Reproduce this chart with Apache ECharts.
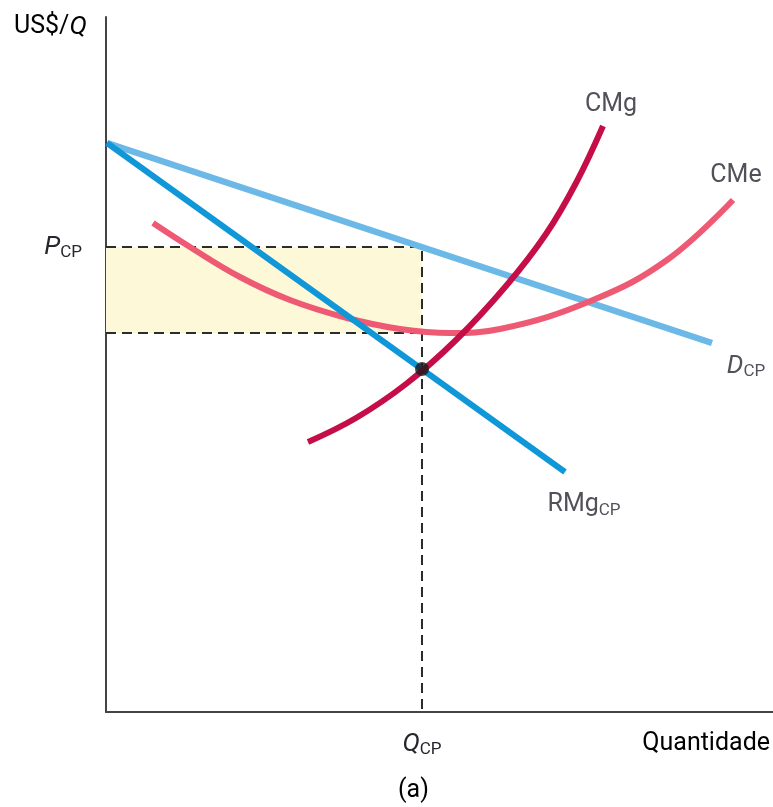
<!DOCTYPE html>
<html>
<head>
<meta charset="utf-8">
<script src="https://cdn.jsdelivr.net/npm/echarts@6/dist/echarts.min.js"></script>
<style>html,body{margin:0;padding:0;background:#fff}#c{width:773px;height:807px}</style>
</head>
<body>
<div id="c"></div>
<script>
// Values (x: quantity units, y: US$/Q units)
const demandCP = [[1, 569], [606, 369]];
const rmgCP = [[1, 569], [459, 240]];
const cmg = [[202,270],[250,294],[300,328],[350,372],[400,426],[440,478],[470,529],[497,586]];
const cme = [[47,489],[84,465],[134,435],[184,412],[241,394],[294,383],[344,379],[394,383],[487,412],[561,452],[627,512]];
const qCP = 316;
const pCP = 465;
const cmeAtQ = 379;
const equilibrium = [[316, 343]];
const curveLabels = [
  [505, 607, '{n|CMg}'],
  [630, 536, '{n|CMe}'],
  [640, 346, '{i|D}{s|CP}'],
  [478, 207, '{n|RMg}{s|CP}']
];
const xMax = 667, yMax = 695;

const txt = '#26262f';
const font = 'Roboto, "Liberation Sans", sans-serif';
const rich = {
  n: {fontSize: 25, fontFamily: font, color: txt, lineHeight: 28},
  i: {fontSize: 26, fontFamily: font, color: txt, fontStyle: 'italic', lineHeight: 28},
  s: {fontSize: 17, fontFamily: font, color: txt, lineHeight: 28, verticalAlign: 'bottom', padding: [10, 0, 0, 0]}
};

const chart = echarts.init(document.getElementById('c'), null, {renderer: 'canvas'});
const dash = {color: '#2b2b2b', width: 2, type: [10, 6]};
chart.setOption({
  animation: false,
  grid: {left: 106, right: 0, top: 17, bottom: 95},
  xAxis: {
    type: 'value', min: 0, max: xMax,
    axisLine: {show: true, lineStyle: {color: '#444', width: 2}},
    axisTick: {show: false}, splitLine: {show: false},
    axisLabel: {customValues: [qCP], margin: 18, color: txt, formatter: () => '{i|Q}{s|CP}', rich: rich}
  },
  yAxis: {
    type: 'value', min: 0, max: yMax,
    axisLine: {show: true, lineStyle: {color: '#444', width: 2}},
    axisTick: {show: false}, splitLine: {show: false},
    axisLabel: {customValues: [pCP], margin: 24, color: txt, formatter: () => '{i|P}{s|CP}', rich: rich}
  },
  graphic: [
    {type: 'text', left: 14, top: 14, style: {rich: rich, text: '{n|US$/}{i|Q}'}},
    {type: 'text', right: 3, top: 731, style: {rich: rich, text: '{n|Quantidade}'}},
    {type: 'text', left: 398, top: 778, style: {rich: rich, text: '{n|(a)}'}}
  ],
  series: [
    {
      type: 'line', data: [[0, cmeAtQ], [qCP, cmeAtQ]], symbol: 'none', lineStyle: dash, z: 3,
      markArea: {silent: true, itemStyle: {color: '#fdf8d7'}, data: [[{coord: [0, cmeAtQ]}, {coord: [qCP, pCP]}]]}
    },
    {type: 'line', data: [[0, pCP], [qCP, pCP], [qCP, 0]], symbol: 'none', lineStyle: dash, z: 3},
    {type: 'line', data: demandCP, symbol: 'none', lineStyle: {color: '#6cb8e6', width: 6.5}, z: 4},
    {type: 'line', data: cme, smooth: 0.4, smoothConstraint: false, symbol: 'none', lineStyle: {color: '#ee5a73', width: 6}, z: 5},
    {type: 'line', data: rmgCP, symbol: 'none', lineStyle: {color: '#0f97d7', width: 6}, z: 6},
    {type: 'line', data: cmg, smooth: 0.4, smoothConstraint: false, symbol: 'none', lineStyle: {color: '#c50d48', width: 6}, z: 7},
    {type: 'scatter', data: equilibrium, symbolSize: 14, itemStyle: {color: '#1a1a1a'}, z: 8},
    {
      type: 'scatter', data: curveLabels, symbolSize: 0, z: 9, silent: true,
      label: {show: true, position: 'inside', formatter: p => p.data[2], rich: rich}
    }
  ]
});
</script>
</body>
</html>
